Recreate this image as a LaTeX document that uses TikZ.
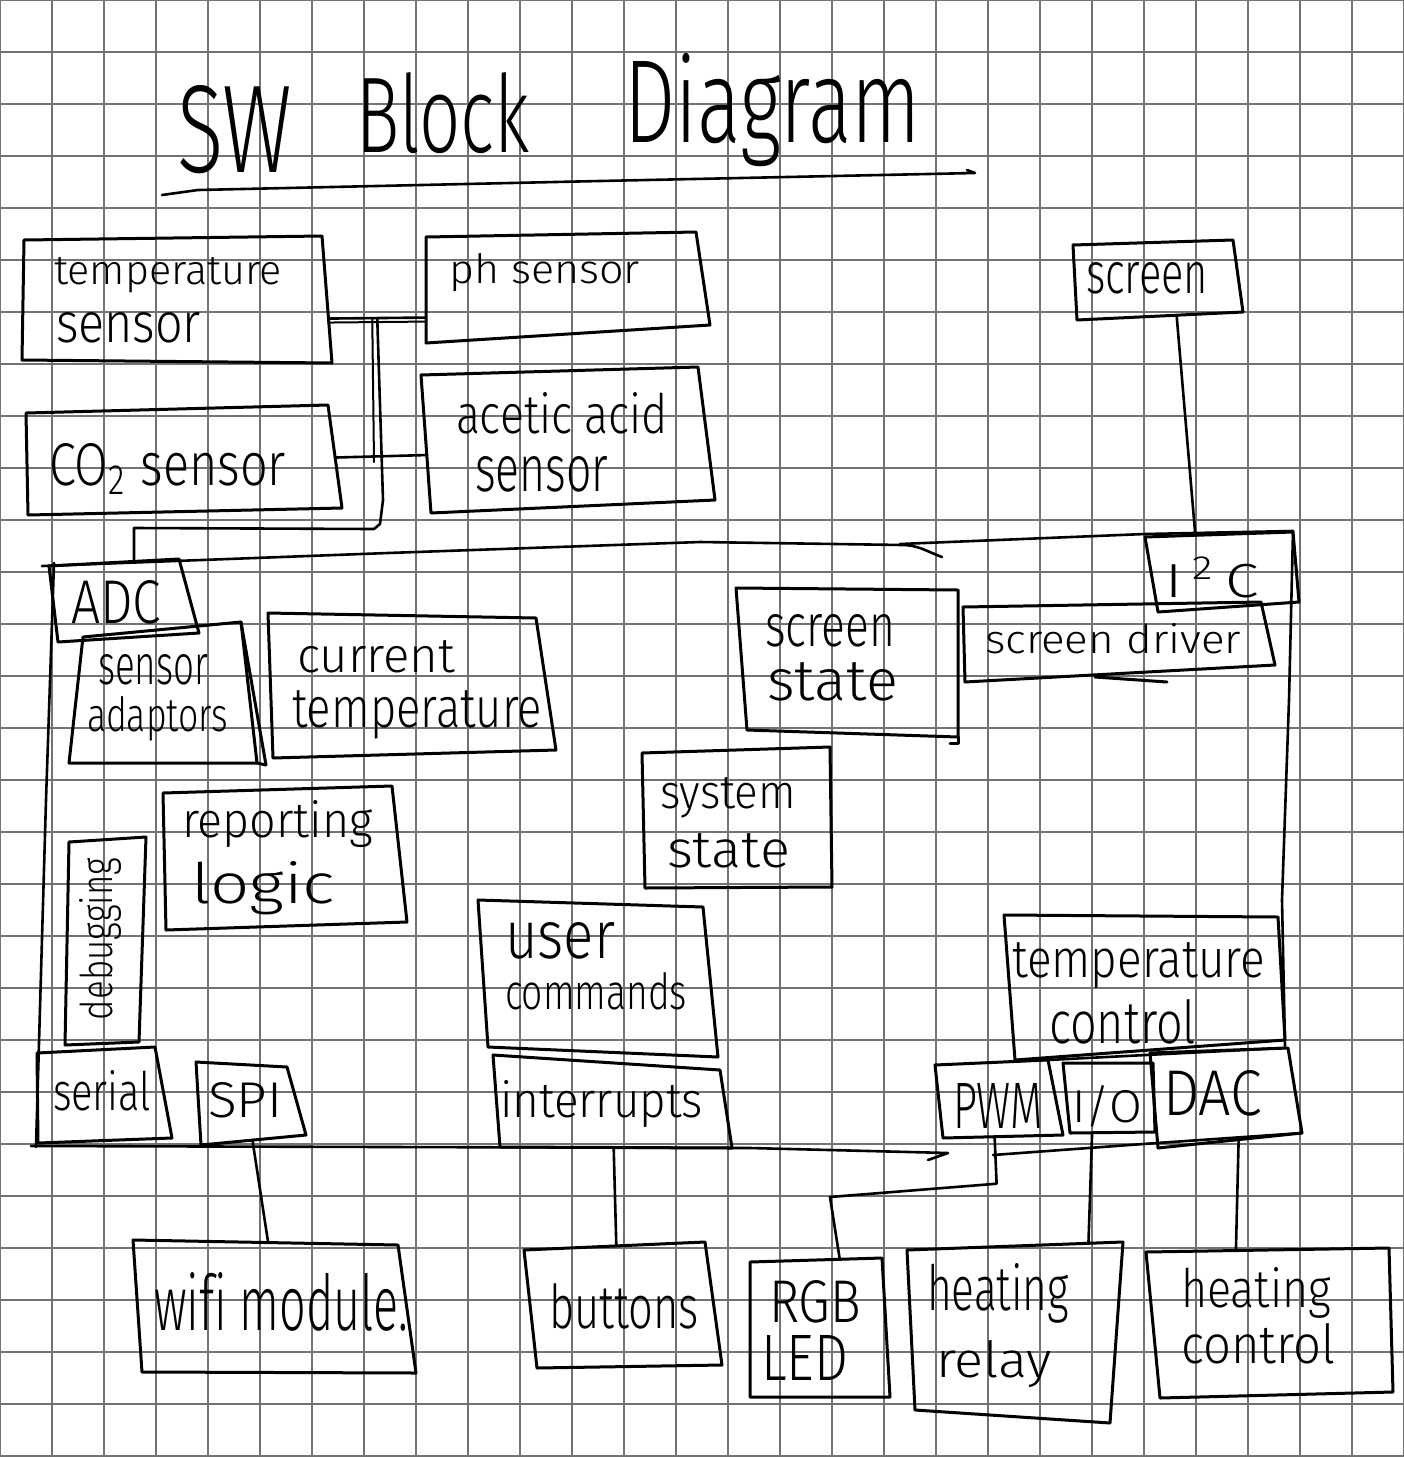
\documentclass[tikz,border=0pt]{standalone}
\usepackage{fontspec}
\usepackage{graphicx}
\setmainfont{Fira Sans Light}[Ligatures=NoCommon]
\usetikzlibrary{calc}

% one unit = 1pt, y grows downwards
\tikzset{
  gridline/.style={draw=black!55, line width=1.5pt},
  boxline/.style={draw=black, line width=3pt, line join=round, line cap=round},
  wire/.style={draw=black, line width=2.6pt, line join=round, line cap=round},
  txt/.style={anchor=base west, inner sep=0pt, outer sep=0pt, text=black},
}

% text of a given width and height (above the baseline)
\newcommand\wt[3]{\resizebox{#1pt}{#2pt}{#3}}

% four-cornered box: name, top-left, top-right, bottom-right, bottom-left
\newcommand\handbox[5]{%
  \coordinate (#1-tl) at (#2);
  \coordinate (#1-tr) at (#3);
  \coordinate (#1-br) at (#4);
  \coordinate (#1-bl) at (#5);
  \draw[boxline] (#1-tl) -- (#1-tr) -- (#1-br) -- (#1-bl) -- cycle;}

\begin{document}
\begin{tikzpicture}[x=1pt, y=-1pt]
\useasboundingbox (0,0) rectangle (1404,1457);
\fill[white] (0,0) rectangle (1404,1457);

% squared paper
\foreach \i in {0,...,27} \draw[gridline] (\i*52,0) -- (\i*52,1457);
\foreach \j in {0,...,28} \draw[gridline] (0,\j*52) -- (1404,\j*52);

% title
\node[txt] (ttl-a) at (177,172) {\wt{115}{87}{SW}};
\node[txt] (ttl-b) at (356,152) {\wt{174}{80}{Block}};
\node[txt] (ttl-c) at (624,142) {\wt{297}{89}{Diagram}};
\draw[wire] (162,195) -- (198,190) -- (600,181) -- (975,173) -- (967,170);

% sensors
\handbox{ts}{24,240}{322,236}{332,363}{22,360}
\node[txt] (ts-t1) at (54,284) {\wt{228}{27}{temperature}};
\node[txt] (ts-t2) at (56,342) {\wt{145}{30}{sensor}};

\handbox{ph}{426,237}{696,232}{710,325}{426,343}
\node[txt] (ph-t1) at (449,283) {\wt{191}{30}{ph sensor}};

\handbox{co}{26,413}{328,405}{342,508}{28,515}
\node[txt] (co-t1) at (49,485) {\wt{237}{42}{CO\textsubscript{2} sensor}};

\handbox{aa}{421,375}{698,367}{715,500}{431,513}
\node[txt] (aa-t1) at (456,433) {\wt{212}{41}{acetic acid}};
\node[txt] (aa-t2) at (475,491) {\wt{133}{35}{sensor}};

\handbox{sc}{1073,245}{1233,240}{1243,312}{1077,320}
\node[txt] (sc-t1) at (1086,293) {\wt{122}{31}{screen}};

% main software block outline
\coordinate (bus-nw) at (42,566);
\coordinate (bus-n1) at (388,553);
\coordinate (bus-n2) at (700,542);
\coordinate (bus-n3) at (902,545);
\coordinate (bus-n4) at (1145,534);
\coordinate (bus-ne) at (1293,531);
\coordinate (bus-se) at (1285,1046);
\coordinate (bus-sw) at (31,1146);
\draw[wire] (bus-nw) -- (bus-n1) -- (bus-n2) -- (bus-n3) to[out=0,in=160] (942,557);
\draw[wire] (900,544) -- (bus-n4) -- (bus-ne);
\draw[wire] (bus-ne) -- (1289,700) -- (1282,900) -- (bus-se);
\draw[wire] (54,563) -- (46,800) -- (36,1147);
\draw[wire] (bus-sw) -- (750,1148) -- (948,1153) -- (928,1160);
\draw[wire] (993,1155) -- (1157,1143) -- (1302,1133);
\draw[wire] (1048,1060) -- (1283,1048);

% blocks inside
\handbox{adc}{49,566}{179,559}{199,633}{58,642}
\node[txt] (adc-t1) at (71,623) {\wt{90}{43}{ADC}};

\handbox{ad}{83,637}{241,622}{257,763}{69,763}
\draw[boxline] (ad-tr) -- (266,765) -- (ad-br);
\node[txt] (ad-t1) at (98,684) {\wt{110}{30}{sensor}};
\node[txt] (ad-t2) at (87,731) {\wt{141}{35}{adaptors}};

\handbox{ct}{268,613}{536,618}{556,750}{273,758}
\node[txt] (ct-t1) at (297,672) {\wt{158}{32}{current}};
\node[txt] (ct-t2) at (292,727) {\wt{250}{37}{temperature}};

\handbox{ss}{736,588}{958,590}{958,737}{747,730}
\draw[boxline] (ss-br) -- (958,743) -- (950,743);
\node[txt] (ss-t1) at (765,646) {\wt{130}{32}{screen}};
\node[txt] (ss-t2) at (767,700) {\wt{131}{38}{state}};

\handbox{sd}{963,607}{1261,602}{1275,665}{965,682}
\draw[boxline] (1095,677) -- (1167,682);
\node[txt] (sd-t1) at (985,653) {\wt{256}{30}{screen driver}};

\handbox{iic}{1145,537}{1293,532}{1299,602}{1158,612}
\node[txt] (iic-t1) at (1165,597) {\wt{94}{40}{I\,\textsuperscript{2}\,C}};

\handbox{sy}{642,753}{830,747}{832,887}{645,888}
\node[txt] (sy-t1) at (660,808) {\wt{136}{31}{system}};
\node[txt] (sy-t2) at (667,867) {\wt{123}{34}{state}};

\handbox{rl}{163,793}{392,786}{407,922}{166,930}
\node[txt] (rl-t1) at (182,837) {\wt{191}{37}{reporting}};
\node[txt] (rl-t2) at (191,903) {\wt{144}{42}{logic}};

\handbox{db}{69,842}{146,837}{139,1042}{65,1045}
\node[txt, rotate=90] (db-t1) at (112,1020) {\wt{162}{33}{debugging}};

\handbox{se}{37,1053}{155,1047}{172,1138}{38,1143}
\node[txt] (se-t1) at (53,1110) {\wt{98}{40}{serial}};

\handbox{spi}{196,1062}{287,1067}{306,1135}{201,1145}
\node[txt] (spi-t1) at (208,1117) {\wt{74}{35}{SPI}};

\handbox{uc}{478,900}{703,907}{718,1057}{488,1047}
\node[txt] (uc-t1) at (505,958) {\wt{110}{36}{user}};
\node[txt] (uc-t2) at (505,1009) {\wt{182}{37}{commands}};

\handbox{ir}{493,1055}{720,1070}{732,1148}{500,1147}
\node[txt] (ir-t1) at (500,1117) {\wt{203}{37}{interrupts}};

\handbox{tc}{1004,915}{1278,917}{1285,1040}{1015,1060}
\node[txt] (tc-t1) at (1012,977) {\wt{253}{35}{temperature}};
\node[txt] (tc-t2) at (1049,1043) {\wt{147}{44}{control}};

\handbox{pwm}{935,1065}{1048,1060}{1063,1135}{943,1138}
\node[txt] (pwm-t1) at (953,1128) {\wt{90}{45}{PWM}};

\handbox{io}{1063,1063}{1153,1063}{1155,1132}{1070,1133}
\node[txt] (io-t1) at (1072,1122) {\wt{70}{37}{I/O}};

\handbox{dac}{1150,1053}{1288,1048}{1302,1133}{1158,1148}
\node[txt] (dac-t1) at (1163,1115) {\wt{99}{45}{DAC}};

% peripherals
\handbox{wf}{133,1240}{398,1245}{416,1373}{142,1372}
\node[txt] (wf-t1) at (154,1330) {\wt{254}{58}{wifi module.}};

\handbox{bt}{524,1250}{705,1242}{722,1365}{537,1368}
\node[txt] (bt-t1) at (549,1328) {\wt{150}{45}{buttons}};

\handbox{led}{750,1262}{882,1258}{890,1397}{750,1397}
\node[txt] (led-t1) at (769,1322) {\wt{92}{42}{RGB}};
\node[txt] (led-t2) at (761,1380) {\wt{87}{45}{LED}};

\handbox{hr}{907,1250}{1123,1242}{1110,1423}{915,1410}
\node[txt] (hr-t1) at (927,1310) {\wt{142}{47}{heating}};
\node[txt] (hr-t2) at (936,1377) {\wt{116}{37}{relay}};

\handbox{hc}{1146,1252}{1389,1248}{1393,1392}{1160,1398}
\node[txt] (hc-t1) at (1181,1307) {\wt{150}{40}{heating}};
\node[txt] (hc-t2) at (1181,1363) {\wt{154}{40}{control}};

% connectors
\coordinate (tsR) at ($(ts-tr)!0.65!(ts-br)$);
\coordinate (phL) at ($(ph-tl)!0.76!(ph-bl)$);
\coordinate (tap) at ($(tsR)!0.5!(phL)$);
\draw[wire] (tsR) -- (phL);
\draw[wire, line width=2pt] ($(tsR)+(0,4)$) -- ($(phL)+(0,4)$);
\draw[wire] (tap) -- (383,500) -- (380,524) -- (374,529) -- (134,528) -- ($(bus-nw)!0.266!(bus-n1)$);
\draw[wire, line width=2pt] ($(tap)+(-5,0)$) -- (374,462);

\coordinate (coR) at ($(co-tr)!0.51!(co-br)$);
\coordinate (aaL) at ($(aa-tl)!0.58!(aa-bl)$);
\draw[wire] (coR) -- (aaL);

\draw[wire] ($(sc-bl)!0.6!(sc-br)$) -- ($(iic-tl)!0.34!(iic-tr)$);
\draw[wire] ($(spi-bl)!0.49!(spi-br)$) -- ($(wf-tl)!0.51!(wf-tr)$);
\draw[wire] ($(ir-bl)!0.49!(ir-br)$) -- ($(bt-tl)!0.51!(bt-tr)$);
\coordinate (pwmB) at ($(pwm-bl)!0.43!(pwm-br)$);
\draw[wire] (pwmB) -- ($(pwmB)+(2,47)$) -- (830,1197) -- ($(led-tl)!0.68!(led-tr)$);
\draw[wire] ($(io-bl)!0.26!(io-br)$) -- ($(hr-tl)!0.84!(hr-tr)$);
\draw[wire] ($(dac-bl)!0.56!(dac-br)$) -- ($(hc-tl)!0.37!(hc-tr)$);
\end{tikzpicture}
\end{document}
